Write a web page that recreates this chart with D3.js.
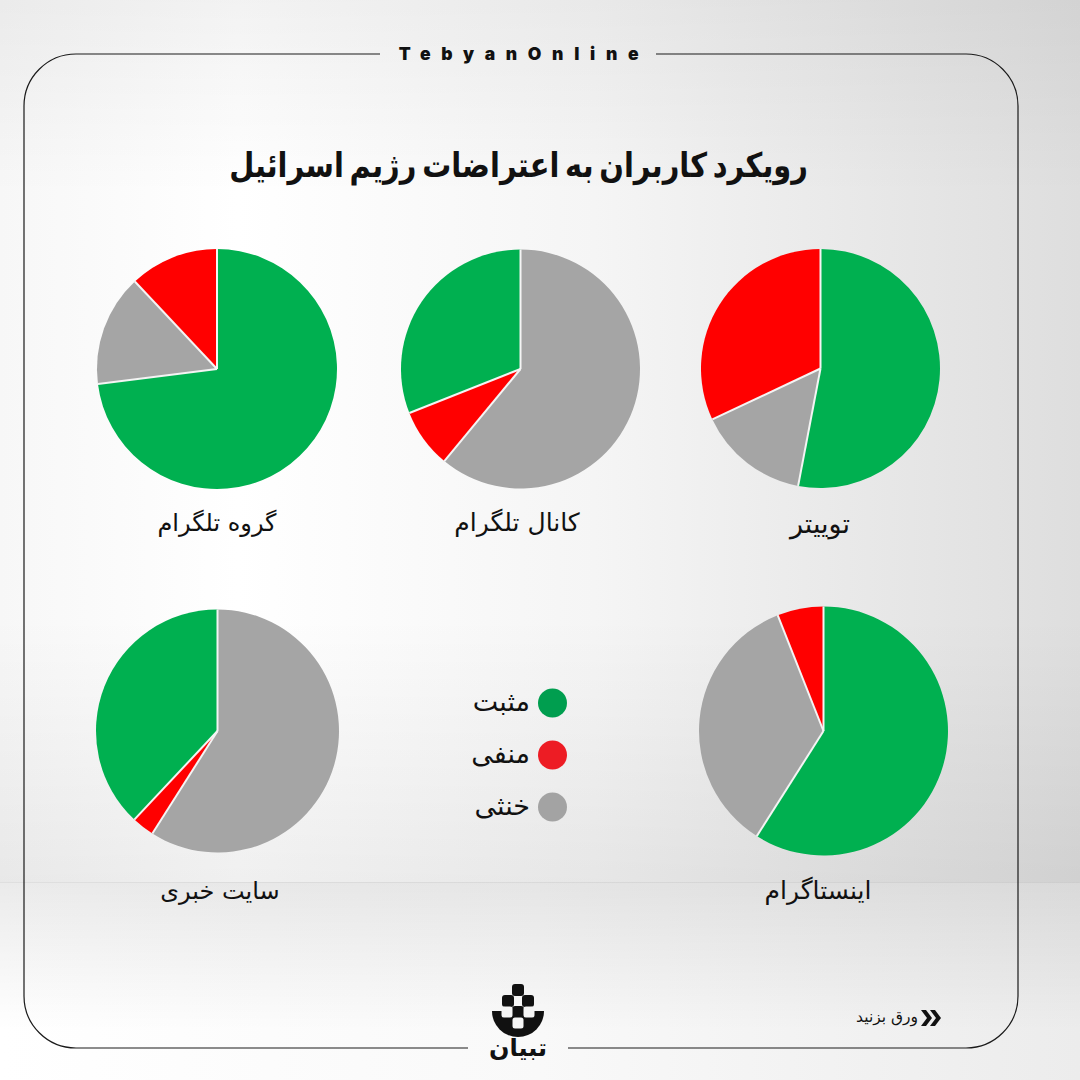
<!DOCTYPE html>
<html lang="fa">
<head>
<meta charset="utf-8">
<title>رویکرد کاربران</title>
<script src="https://cdn.jsdelivr.net/npm/d3@7"></script>
<style>
  html, body { margin: 0; padding: 0; background: #fff; }
  svg { display: block; }
  text { font-family: "DejaVu Sans", "Noto Sans", sans-serif; fill: #111; }
</style>
</head>
<body>
<div id="chart"></div>
<script>
// values, in percent
var platforms = ['توییتر', 'کانال تلگرام', 'گروه تلگرام', 'اینستاگرام', 'سایت خبری'];
var positive  = [53, 31, 73, 59, 38];
var negative  = [32,  8, 12,  6,  3];
var neutral   = [15, 61, 15, 35, 59];

// slice order differs from pie to pie, clockwise from 12 o'clock
var sliceOrder = [
  ['positive', 'neutral', 'negative'],
  ['neutral', 'negative', 'positive'],
  ['positive', 'neutral', 'negative'],
  ['positive', 'neutral', 'negative'],
  ['neutral', 'negative', 'positive']
];

var legendKeys   = ['positive', 'negative', 'neutral'];
var legendLabels = ['مثبت', 'منفی', 'خنثی'];
var titleText    = 'رویکرد کاربران به اعتراضات رژیم اسرائیل';

var width = 1080, height = 1080;

// layout of the pies, same order as platforms
var pieX   = [820.5, 520.5, 217, 823.5, 217.5];
var pieY   = [368.5, 369, 369, 731, 731];
var pieR   = [119.5, 119.5, 120, 124.5, 121.5];
var labelY = [533, 531, 531, 899, 899];
var labelX = [820, 517, 217, 818, 220];
var labelSize = [27, 25, 24, 25, 24];

var pieColor = d3.scaleOrdinal()
  .domain(legendKeys)
  .range(['#00b050', '#ff0000', '#a5a5a5']);
var legendColor = d3.scaleOrdinal()
  .domain(legendKeys)
  .range(['#009e4f', '#ed1c24', '#a3a3a3']);
var legendY = d3.scalePoint().domain(legendKeys).range([703, 807]);

var svg = d3.select('#chart').append('svg')
  .attr('width', width)
  .attr('height', height)
  .attr('viewBox', [0, 0, width, height]);

var defs = svg.append('defs');

function addGradient(id, vertical, stops) {
  var grad = defs.append('linearGradient').attr('id', id)
    .attr('x1', 0).attr('y1', 0)
    .attr('x2', vertical ? 0 : 1).attr('y2', vertical ? 1 : 0);
  stops.forEach(function(s) {
    grad.append('stop')
      .attr('offset', s[0])
      .attr('stop-color', s[1])
      .attr('stop-opacity', s[2] === undefined ? 1 : s[2]);
  });
}

addGradient('wall', false, [[0, '#f7f7f7'], [0.22, '#ffffff'], [0.55, '#f5f5f5'], [1, '#dedede']]);
addGradient('wallShade', true, [[0, '#000', 0.05], [0.22, '#000', 0], [0.7, '#000', 0], [1, '#000', 0.06]]);
addGradient('floor', false, [[0, '#ffffff'], [0.5, '#f9f9f9'], [1, '#ececec']]);
addGradient('floorShade', true, [[0, '#000', 0.08], [0.75, '#000', 0]]);

// Background: wall and floor
svg.append('rect').attr('width', width).attr('height', 882).attr('fill', 'url(#wall)');
svg.append('rect').attr('width', width).attr('height', 882).attr('fill', 'url(#wallShade)');
svg.append('rect').attr('y', 882).attr('width', width).attr('height', 198).attr('fill', 'url(#floor)');
svg.append('rect').attr('y', 882).attr('width', width).attr('height', 198).attr('fill', 'url(#floorShade)');
svg.append('line')
  .attr('x1', 0).attr('x2', width).attr('y1', 882.5).attr('y2', 882.5)
  .attr('stroke', '#000').attr('stroke-opacity', 0.05);

// Frame, with gaps for the header and the logo
var frame = d3.path();
frame.moveTo(380, 54);
frame.lineTo(76, 54);
frame.arcTo(24, 54, 24, 106, 52);
frame.lineTo(24, 996);
frame.arcTo(24, 1048, 76, 1048, 52);
frame.lineTo(468, 1048);
frame.moveTo(568, 1048);
frame.lineTo(966, 1048);
frame.arcTo(1018, 1048, 1018, 996, 52);
frame.lineTo(1018, 106);
frame.arcTo(1018, 54, 966, 54, 52);
frame.lineTo(656, 54);
svg.append('path').attr('d', frame.toString())
  .attr('fill', 'none').attr('stroke', '#1a1a1a').attr('stroke-width', 1.2);

svg.append('text')
  .attr('x', 524).attr('y', 60)
  .attr('text-anchor', 'middle')
  .style('font-family', 'Inter, "DejaVu Sans", sans-serif')
  .style('font-weight', 900)
  .style('font-size', '17.5px')
  .style('letter-spacing', '10.7px')
  .text('TebyanOnline');

// reference face is narrower than DejaVu, so squeeze the line sideways
svg.append('text')
  .attr('transform', 'translate(518.5,177) scale(0.85,1)')
  .attr('text-anchor', 'middle')
  .attr('direction', 'rtl')
  .style('font-weight', 700)
  .style('font-size', '34px')
  .style('word-spacing', '-5px')
  .text(titleText);

// Pies
var pie = d3.pie().sort(null).value(function(d) { return d.value; });
var lookup = { positive: positive, negative: negative, neutral: neutral };

platforms.forEach(function(name, i) {
  var slices = pie(sliceOrder[i].map(function(key) {
    return { key: key, value: lookup[key][i] };
  }));
  var arc = d3.arc().innerRadius(0).outerRadius(pieR[i]);
  var g = svg.append('g').attr('transform', 'translate(' + pieX[i] + ',' + pieY[i] + ')');
  g.selectAll('path')
    .data(slices)
    .join('path')
      .attr('d', arc)
      .attr('fill', function(d) { return pieColor(d.data.key); });

  // white separators only between slices, no outline round the rim
  g.selectAll('line')
    .data(slices)
    .join('line')
      .attr('x2', function(d) { return d3.pointRadial(d.startAngle, pieR[i])[0]; })
      .attr('y2', function(d) { return d3.pointRadial(d.startAngle, pieR[i])[1]; })
      .attr('stroke', '#f4f4f4')
      .attr('stroke-width', 2);

  svg.append('text')
    .attr('x', labelX[i]).attr('y', labelY[i])
    .attr('text-anchor', 'middle')
    .attr('direction', 'rtl')
    .style('font-size', labelSize[i] + 'px')
    .text(name);
});

// Legend
legendKeys.forEach(function(key, i) {
  svg.append('circle')
    .attr('cx', 552.5).attr('cy', legendY(key)).attr('r', 14.5)
    .attr('fill', legendColor(key));
  svg.append('text')
    .attr('x', 530).attr('y', legendY(key) + 8)
    .attr('text-anchor', 'end')
    .style('font-size', '27px')
    .text(legendLabels[i]);
});

// Logo
var logo = svg.append('g').attr('fill', '#111');
var bowl = d3.arc().innerRadius(0).outerRadius(26).startAngle(Math.PI / 2).endAngle(Math.PI * 1.5);
logo.append('path').attr('d', bowl()).attr('transform', 'translate(518,1011)');
[[518, 990], [508, 1001], [528, 1001], [518, 1012]].forEach(function(c) {
  logo.append('rect')
    .attr('x', c[0] - 6).attr('y', c[1] - 6)
    .attr('width', 12).attr('height', 12).attr('rx', 3);
});
[[507, 1012], [529, 1012], [518, 1023]].forEach(function(c) {
  logo.append('rect')
    .attr('x', c[0] - 5.5).attr('y', c[1] - 5.5)
    .attr('width', 11).attr('height', 11).attr('rx', 2.5)
    .attr('fill', '#f6f6f6');
});
svg.append('text')
  .attr('x', 518).attr('y', 1056)
  .attr('text-anchor', 'middle')
  .style('font-weight', 700)
  .style('font-size', '24px')
  .text('تبیان');

// Swipe hint
svg.append('text')
  .attr('x', 918).attr('y', 1022)
  .attr('text-anchor', 'end')
  .style('font-size', '15.5px')
  .text('ورق بزنید');
[921, 930].forEach(function(x) {
  svg.append('path')
    .attr('d', d3.line()([[x, 1010], [x + 5, 1010], [x + 11, 1018], [x + 5, 1026], [x, 1026], [x + 6, 1018]]) + 'Z')
    .attr('fill', '#111');
});
</script>
</body>
</html>
